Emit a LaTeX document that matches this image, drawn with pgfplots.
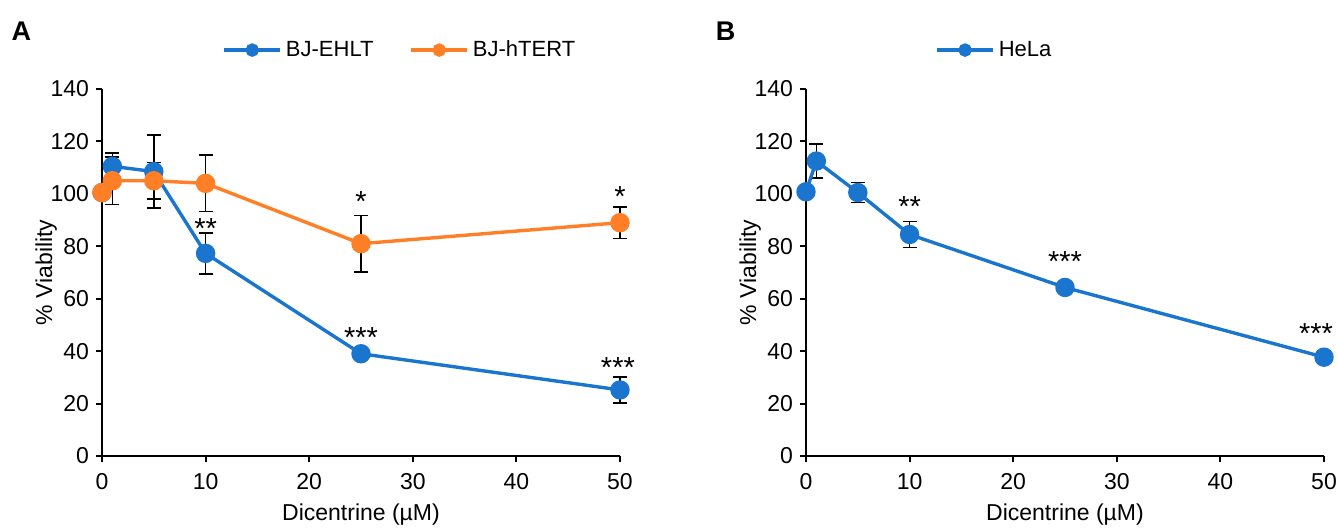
\documentclass[border=0pt]{standalone}
\usepackage{fontspec}
\setmainfont{Liberation Sans}
\usepackage{pgfplots}
\pgfplotsset{compat=1.18}

\definecolor{ehlt}{RGB}{26,117,207}
\definecolor{htert}{RGB}{255,127,39}

\tikzset{stars/.style={font=\fontsize{14.5}{14.5}\selectfont, inner sep=0pt}}

\pgfplotsset{
  viab/.style={
    scale only axis, width=259pt, height=183.5pt,
    xmin=0, xmax=50, ymin=0, ymax=140,
    xtick={0,10,...,50}, ytick={0,20,...,140},
    axis lines=left, axis line style={line width=1pt, -},
    tick style={line width=1pt, black}, tick align=outside, major tick length=3pt,
    tick label style={font=\fontsize{11.5}{13}\selectfont},
    xticklabel style={yshift=-2pt},
    label style={font=\fontsize{11.5}{13}\selectfont},
    /pgf/number format/assume math mode=true,
    xlabel={Dicentrine (µM)}, ylabel={\% Viability},
    xlabel style={at={(axis description cs:0.5,-0.16)}, anchor=center},
    ylabel style={at={(axis description cs:-0.108,0.5)}, anchor=center},
    clip=false,
    legend style={draw=none, fill=none, inner sep=0pt, anchor=west,
      font=\fontsize{11}{13}\selectfont, legend columns=-1,
      /tikz/every even column/.append style={column sep=16pt}},
    legend image code/.code={\draw[mark repeat=2, mark phase=2, mark size=2.5pt]
      plot coordinates {(0pt,0pt)(14pt,0pt)(28pt,0pt)};},
  },
  ser/.style={color=#1, line width=1.7pt, mark=*, mark size=4pt,
    mark options={fill=#1, draw=#1}},
  errs/.style={draw=none, mark=none, forget plot,
    error bars/.cd, y dir=both, y explicit,
    error bar style={black, line width=0.8pt},
    error mark options={black, rotate=90, mark size=3.5pt, line width=0.8pt}},
}

\begin{document}
\begin{tikzpicture}
\useasboundingbox (-51pt,-36.5pt) rectangle (617.5pt,228pt);

\begin{axis}[viab,
  legend style={at={(axis description cs:0.232,1.106)}}]
\addplot[errs] coordinates {
  (1,110.5) +- (0,5) (5,108.5) +- (0,14) (10,77.3) +- (0,7.8)
  (25,39) +- (0,1.2) (50,25.2) +- (0,5)};
\addplot[errs] coordinates {
  (0,100.5) +- (0,1) (1,105) +- (0,9) (5,105) +- (0,7) (10,104) +- (0,10.8)
  (25,81) +- (0,10.8) (50,89) +- (0,6)};
\addplot[ser=ehlt] coordinates {
  (0,100.5) (1,110.5) (5,108.5) (10,77.3) (25,39) (50,25.2)};
\addlegendentry{BJ-EHLT}
\addplot[ser=htert] coordinates {
  (0,100.5) (1,105) (5,105) (10,104) (25,81) (50,89)};
\addlegendentry{BJ-hTERT}
\node[stars, anchor=base] at (axis cs:10,82.8) {**};
\node[stars, anchor=base] at (axis cs:25,93.4) {*};
\node[stars, anchor=base] at (axis cs:50,95.3) {*};
\node[stars, anchor=base] at (axis cs:25,41.3) {***};
\node[stars, anchor=base] at (axis cs:49.8,29.8) {***};
\end{axis}

\begin{axis}[viab, at={(352pt,0pt)},
  legend style={at={(axis description cs:0.249,1.106)}}]
\addplot[errs] coordinates {
  (0,100.8) +- (0,1) (1,112.5) +- (0,6.5) (5,100.5) +- (0,3.8)
  (10,84.5) +- (0,5) (25,64.3) +- (0,1.5) (50,37.7) +- (0,1.5)};
\addplot[ser=ehlt] coordinates {
  (0,100.8) (1,112.5) (5,100.5) (10,84.5) (25,64.3) (50,37.7)};
\addlegendentry{HeLa}
\node[stars, anchor=base] at (axis cs:10,91.5) {**};
\node[stars, anchor=base] at (axis cs:25,70.5) {***};
\node[stars, anchor=base east] at (axis cs:50.9,42.8) {***};
\end{axis}

\node[font=\bfseries\fontsize{13.5}{14}\selectfont] at (-40.25pt,212.5pt) {A};
\node[font=\bfseries\fontsize{13.5}{14}\selectfont] at (311.75pt,212.5pt) {B};
\end{tikzpicture}
\end{document}
